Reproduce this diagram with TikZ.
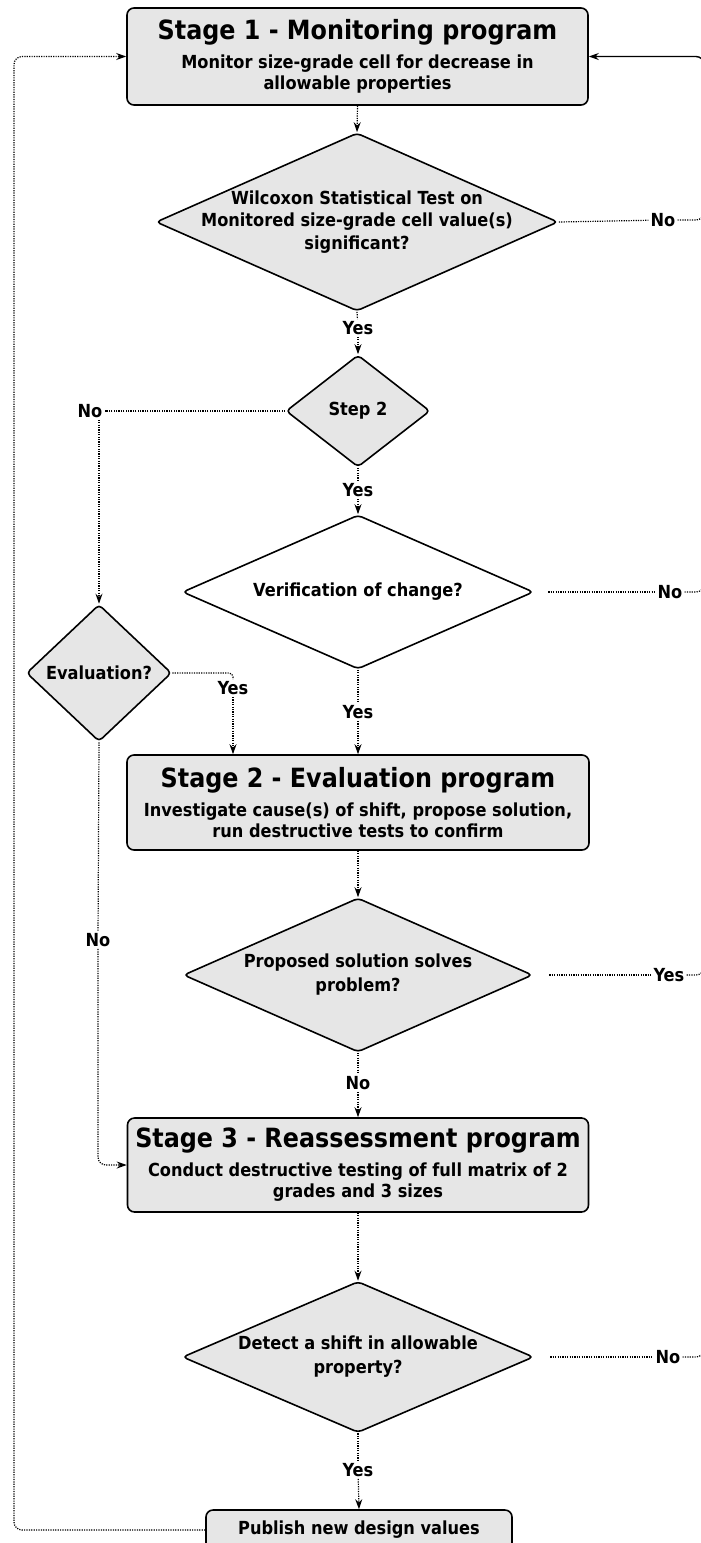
\documentclass[tikz,border=0pt]{standalone}
\usepackage{fontspec}
\setmainfont{DejaVu Sans Condensed}
\usetikzlibrary{arrows.meta,shapes.geometric}
\definecolor{boxgray}{RGB}{230,230,230}

\begin{document}
\begin{tikzpicture}[x=1pt,y=-1pt,>={Stealth[length=10pt,width=7pt]},line join=round,
  font=\bfseries\fontsize{18}{21}\selectfont,
  stagebox/.style={draw,line width=1.6pt,fill=boxgray,rounded corners=7pt,align=center,inner sep=0pt},
  ask/.style={diamond,draw,line width=1.6pt,fill=boxgray,rounded corners=4pt,inner sep=0pt},
  flow/.style={line width=1.2pt,dash pattern=on 1.2pt off 1.2pt},
  tag/.style={inner sep=2pt}]
\useasboundingbox (0,0) rectangle (701,1543);
\clip (0,0) rectangle (701,1543);
\coordinate (lft) at (14,0);
\coordinate (rgt) at (704,0);
% stage 1
\node[stagebox,minimum width=461,minimum height=97] (s1) at (357.5,56.5)
  {{\fontsize{26.5}{30}\selectfont Stage 1 - Monitoring program}\\[8pt]
   Monitor size-grade cell for decrease in\\allowable properties};
\node[ask,minimum width=402,minimum height=178,
  label={[align=center,font=\bfseries\fontsize{18}{22.5}\selectfont]center:Wilcoxon Statistical Test on\\Monitored size-grade cell value(s)\\significant?}] (d1) at (357,222) {};
\node[tag] (y1) at (358,328) {Yes};
\node[tag] (n1) at (663,220) {No};
\node[ask,minimum width=144,minimum height=112,label=center:Step 2] (d2) at (358,411) {};
\node[tag] (n2) at (90,411) {No};
\node[tag] (y2) at (358,490) {Yes};
\node[ask,fill=white,minimum width=351,minimum height=154,label=center:Verification of change?] (d3) at (358,592) {};
\node[tag] (n3) at (670,592) {No};
\node[ask,minimum width=145,minimum height=137,label=center:Evaluation?] (ev) at (99,673) {};
\node[tag] (ye) at (233,688) {Yes};
\node[tag] (y3) at (358,712) {Yes};
% stage 2
\node[stagebox,minimum width=462,minimum height=95] (s2) at (358,802.5)
  {{\fontsize{26.5}{30}\selectfont Stage 2 - Evaluation program}\\[8pt]
   Investigate cause(s) of shift, propose solution,\\run destructive tests to confirm};
\node[ask,minimum width=349,minimum height=154,
  label={[align=center,font=\bfseries\fontsize{18}{24}\selectfont]center:Proposed solution solves\\problem?}] (d4) at (358,975) {};
\node[tag] (n4) at (669,975) {Yes};
\node[tag] (y4) at (358,1083) {No};
\node[tag] (nl) at (98,940) {No};
% stage 3
\node[stagebox,minimum width=461,minimum height=94] (s3) at (358,1165)
  {{\fontsize{26.5}{30}\selectfont Stage 3 - Reassessment program}\\[8pt]
   Conduct destructive testing of full matrix of 2\\grades and 3 sizes};
\node[ask,minimum width=351,minimum height=151,
  label={[align=center,font=\bfseries\fontsize{18}{24}\selectfont]center:Detect a shift in allowable\\property?}] (d5) at (358,1357) {};
\node[tag] (n5) at (668,1357) {No};
\node[tag] (y5) at (358,1470) {Yes};
\node[stagebox,minimum width=306,minimum height=40] (pub) at (359,1530) {Publish new design values};
% connectors
\draw[flow,->] (s1.south) -- (d1.north);
\draw[flow] (d1.south) -- (y1);
\draw[flow,->] (y1) -- (d2.north);
\draw[flow] (d1.east) -- (n1);
\draw[flow] (d2.west) -- (n2);
\draw[flow,->] (ev.north |- n2.south) -- (ev.north);
\draw[flow] (d2.south) -- (y2);
\draw[flow,->] (y2) -- (d3.north);
\draw[flow,shorten <=14pt] (d3.east) -- (n3);
\draw[flow] (d3.south) -- (y3);
\draw[flow,->] (y3) -- (s2.north);
\draw[flow,rounded corners=4pt] (ev.east) -- (ye.north |- ev.east) -- (ye.north);
\draw[flow,->] (ye.south) -- (ye.south |- s2.north);
\draw[flow,->] (s2.south) -- (d4.north);
\draw[flow,shorten <=16pt] (d4.east) -- (n4);
\draw[flow] (d4.south) -- (y4);
\draw[flow,->] (y4) -- (s3.north);
\draw[flow] (ev.south) -- (nl);
\draw[flow,->,rounded corners=8pt] (nl.south) -- (nl.south |- s3.west) -- (s3.west);
\draw[flow,->] (s3.south) -- (d5.north);
\draw[flow,shorten <=16pt] (d5.east) -- (n5);
\draw[flow] (d5.south) -- (y5);
\draw[flow,->] (y5) -- (pub.north);
\draw[flow,->,rounded corners=8pt] (pub.west) -- (lft |- pub.west) -- (lft |- s1.west) -- (s1.west);
% return line at right edge
\draw[flow,rounded corners=8pt] (n1.east) -- (rgt |- n1.east) -- ++(0,-30);
\draw[flow,rounded corners=8pt] (n3.east) -- (rgt |- n3.east) -- ++(0,-30);
\draw[flow,rounded corners=8pt] (n4.east) -- (rgt |- n4.east) -- ++(0,-30);
\draw[flow,rounded corners=8pt] (n5.east) -- (rgt |- n5.east) -- ++(0,-30);
\draw[->,line width=1.4pt,rounded corners=8pt] (rgt |- n5.east) -- (rgt |- s1.east) -- (s1.east);
\end{tikzpicture}
\end{document}
